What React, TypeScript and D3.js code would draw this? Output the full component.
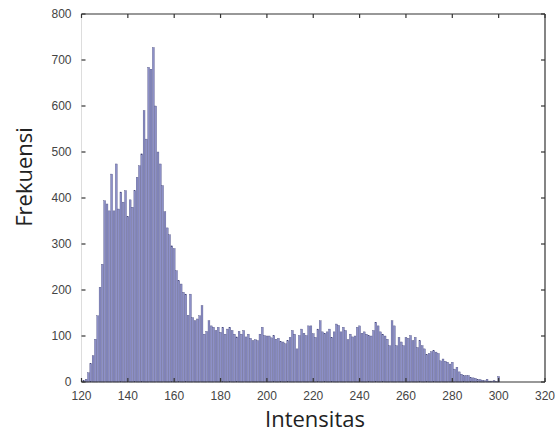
import { useEffect, useRef } from "react";
import * as d3 from "d3";

// histogram counts for intensity 121..300
const startIntensity = 121;
const freq = [
  3, 6, 20, 40, 57, 93, 144, 206, 256, 394,
  387, 372, 452, 372, 474, 376, 413, 391, 416, 360,
  396, 380, 416, 445, 470, 496, 590, 528, 684, 680,
  727, 600, 500, 474, 427, 370, 335, 320, 296, 290,
  242, 220, 213, 195, 191, 145, 191, 140, 133, 137,
  144, 166, 104, 110, 133, 122, 119, 112, 119, 108,
  119, 104, 115, 119, 112, 104, 98, 110, 104, 112,
  98, 104, 95, 90, 92, 90, 104, 119, 101, 100,
  100, 96, 101, 93, 95, 88, 87, 83, 90, 97,
  112, 104, 72, 101, 115, 106, 101, 122, 122, 105,
  97, 115, 133, 109, 106, 109, 115, 97, 109, 126,
  123, 109, 119, 112, 92, 104, 98, 100, 119, 122,
  106, 109, 104, 101, 100, 112, 130, 122, 109, 104,
  100, 93, 79, 133, 122, 79, 97, 87, 79, 97,
  95, 101, 90, 97, 75, 90, 79, 72, 60, 62,
  66, 68, 65, 62, 46, 50, 45, 43, 39, 43,
  28, 32, 22, 17, 14, 14, 14, 10, 9, 8,
  6, 5, 4, 3, 6, 2, 2, 3, 1, 12,
];
const xTicks = [120, 140, 160, 180, 200, 220, 240, 260, 280, 300, 320];
const yTicks = [0, 100, 200, 300, 400, 500, 600, 700, 800];
const xTitle = "Intensitas";
const yTitle = "Frekuensi";

export default function App() {
  const svgRef = useRef<SVGSVGElement | null>(null);

  useEffect(() => {
    if (!svgRef.current) return;
    const svg = d3.select(svgRef.current);
    svg.selectAll("*").remove();

    const width = 557;
    const height = 434;
    const margin = { top: 14, right: 12, bottom: 52, left: 81.5 };
    const innerWidth = width - margin.left - margin.right;
    const innerHeight = height - margin.top - margin.bottom;

    const rows = freq.map((count, i) => ({ v: startIntensity + i, count }));

    const x = d3.scaleLinear().domain([120, 320]).range([0, innerWidth]);
    const y = d3.scaleLinear().domain([0, 800]).range([innerHeight, 0]);
    const unit = x(121) - x(120);

    const root = svg
      .append("g")
      .attr("transform", `translate(${margin.left},${margin.top})`);

    root
      .append("g")
      .selectAll("rect")
      .data(rows)
      .join("rect")
      .attr("x", (d) => x(d.v) - unit * 0.4)
      .attr("width", unit * 0.8)
      .attr("y", (d) => y(d.count))
      .attr("height", (d) => innerHeight - y(d.count))
      .attr("fill", "#8d90c8")
      .attr("stroke", "#45477a")
      .attr("stroke-width", 0.35);

    // MATLAB-style box: left spine barely shows in the picture
    const tickLen = 4;
    const frame = root.append("g").attr("stroke", "#333").attr("stroke-width", 1.2);
    frame.append("line").attr("x1", 0).attr("x2", innerWidth).attr("y1", 0).attr("y2", 0);
    frame.append("line").attr("x1", 0).attr("x2", innerWidth).attr("y1", innerHeight).attr("y2", innerHeight);
    frame.append("line").attr("x1", innerWidth).attr("x2", innerWidth).attr("y1", 0).attr("y2", innerHeight);
    frame
      .append("line")
      .attr("x1", 0)
      .attr("x2", 0)
      .attr("y1", 0)
      .attr("y2", innerHeight)
      .attr("stroke", "#d4d4d4")
      .attr("stroke-width", 0.8);

    xTicks.forEach((t) => {
      frame.append("line").attr("x1", x(t)).attr("x2", x(t)).attr("y1", innerHeight).attr("y2", innerHeight - tickLen);
      frame.append("line").attr("x1", x(t)).attr("x2", x(t)).attr("y1", 0).attr("y2", tickLen);
    });
    yTicks.forEach((t) => {
      frame.append("line").attr("x1", 0).attr("x2", tickLen).attr("y1", y(t)).attr("y2", y(t));
      frame.append("line").attr("x1", innerWidth).attr("x2", innerWidth - tickLen).attr("y1", y(t)).attr("y2", y(t));
    });

    const labels = root
      .append("g")
      .attr("font-family", "'Liberation Sans', Arial, sans-serif")
      .attr("font-size", 12)
      .attr("fill", "#444");

    labels
      .selectAll("text.xt")
      .data(xTicks)
      .join("text")
      .attr("class", "xt")
      .attr("x", (d) => x(d))
      .attr("y", innerHeight + 18)
      .attr("text-anchor", "middle")
      .text((d) => d);

    labels
      .selectAll("text.yt")
      .data(yTicks)
      .join("text")
      .attr("class", "yt")
      .attr("x", -10)
      .attr("y", (d) => y(d) + 4)
      .attr("text-anchor", "end")
      .text((d) => d);

    svg
      .append("text")
      .attr("x", 315)
      .attr("y", 427)
      .attr("text-anchor", "middle")
      .attr("font-family", "'Open Sans', sans-serif")
      .attr("font-size", 22)
      .attr("fill", "#222")
      .text(xTitle);

    svg
      .append("text")
      .attr("transform", "translate(32,177) rotate(-90)")
      .attr("text-anchor", "middle")
      .attr("font-family", "'Open Sans', sans-serif")
      .attr("font-size", 22)
      .attr("fill", "#222")
      .text(yTitle);
  }, []);

  return (
    <svg
      ref={svgRef}
      width={557}
      height={434}
      style={{ position: "absolute", left: 0, top: 0, background: "#fff" }}
    />
  );
}
